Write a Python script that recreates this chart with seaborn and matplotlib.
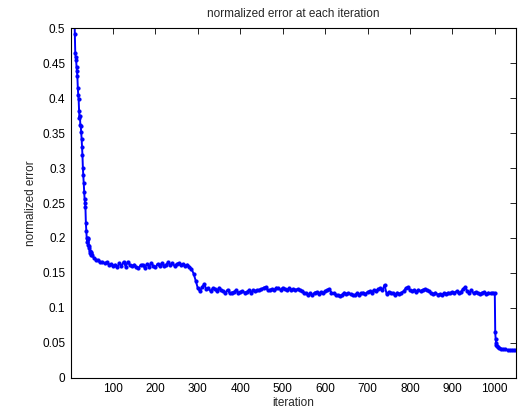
import numpy as np
import pandas as pd
import seaborn as sns
import matplotlib.pyplot as plt
from matplotlib.ticker import FormatStrFormatter

# iterations 1..50: fast initial drop (first points clipped above 0.5)
drop_iter = list(range(1, 51))
drop_err = [1.00, 0.95, 0.90, 0.85, 0.80, 0.75, 0.68, 0.60, 0.53, 0.492,
            0.465, 0.458, 0.455, 0.445, 0.438, 0.431, 0.415, 0.405, 0.398, 0.382,
            0.372, 0.375, 0.361, 0.360, 0.352, 0.342, 0.330, 0.318, 0.300, 0.290,
            0.278, 0.266, 0.256, 0.250, 0.244, 0.222, 0.210, 0.200, 0.194, 0.200,
            0.190, 0.198, 0.188, 0.185, 0.182, 0.178, 0.180, 0.176, 0.178, 0.175]

# iterations 55..995, every 5
mid_iter = list(range(55, 1000, 5))
mid_err = [0.172, 0.169, 0.168, 0.165, 0.166, 0.164, 0.165, 0.162, 0.163, 0.160,
           0.162, 0.158, 0.164, 0.160, 0.166, 0.159, 0.166, 0.161, 0.160, 0.162,
           0.158, 0.157, 0.161, 0.162, 0.157, 0.163, 0.159, 0.164, 0.160, 0.158,
           0.163, 0.160, 0.164, 0.160, 0.162, 0.165, 0.161, 0.164, 0.160, 0.163,
           0.164, 0.161, 0.163, 0.160, 0.162, 0.159, 0.156, 0.149, 0.139, 0.128,
           0.124, 0.130, 0.134, 0.127, 0.128, 0.124, 0.128, 0.127, 0.124, 0.129,
           0.125, 0.124, 0.122, 0.126, 0.121, 0.122, 0.123, 0.125, 0.122, 0.123,
           0.124, 0.122, 0.123, 0.125, 0.122, 0.125, 0.124, 0.125, 0.126, 0.127,
           0.129, 0.130, 0.125, 0.126, 0.127, 0.125, 0.129, 0.128, 0.126, 0.129,
           0.127, 0.126, 0.128, 0.126, 0.127, 0.126, 0.127, 0.125, 0.124, 0.122,
           0.121, 0.119, 0.121, 0.118, 0.122, 0.123, 0.120, 0.123, 0.121, 0.124,
           0.126, 0.127, 0.122, 0.121, 0.119, 0.118, 0.117, 0.119, 0.122, 0.120,
           0.121, 0.120, 0.119, 0.118, 0.121, 0.119, 0.121, 0.122, 0.120, 0.123,
           0.124, 0.122, 0.126, 0.124, 0.127, 0.128, 0.125, 0.133, 0.120, 0.123,
           0.122, 0.121, 0.119, 0.122, 0.120, 0.122, 0.124, 0.128, 0.130, 0.125,
           0.124, 0.126, 0.123, 0.126, 0.124, 0.126, 0.127, 0.125, 0.124, 0.121,
           0.120, 0.122, 0.119, 0.120, 0.118, 0.121, 0.120, 0.122, 0.121, 0.123,
           0.122, 0.124, 0.121, 0.123, 0.127, 0.130, 0.124, 0.122, 0.125, 0.121,
           0.123, 0.121, 0.120, 0.122, 0.123, 0.120, 0.122, 0.121, 0.122]

# last step around iteration 1000
tail_iter = [1000, 1001, 1002, 1003, 1004, 1005, 1007, 1010, 1015, 1020,
             1025, 1030, 1035, 1040, 1045, 1050]
tail_err = [0.121, 0.066, 0.056, 0.050, 0.047, 0.045, 0.044, 0.043, 0.042, 0.041,
            0.041, 0.040, 0.040, 0.040, 0.040, 0.040]

assert len(mid_iter) == len(mid_err)

df = pd.DataFrame({'iteration': drop_iter + mid_iter + tail_iter,
                   'error': drop_err + mid_err + tail_err})

sns.set_style('white')
plt.rcParams['font.family'] = ['Liberation Sans', 'DejaVu Sans']

fig = plt.figure(figsize=(5.26, 4.19), dpi=100)
ax = fig.add_axes([0.135, 0.098, 0.846, 0.835])
sns.lineplot(data=df, x='iteration', y='error', estimator=None, sort=False,
             color='#0000ff', linewidth=1.4, marker='.', markersize=4.5,
             markeredgecolor='#0000ff', ax=ax)

ax.set_xlim(1, 1050)
ax.set_ylim(0, 0.5)
ax.set_xticks(range(100, 1001, 100))
ax.set_yticks(np.arange(0, 0.501, 0.05))
ax.yaxis.set_major_formatter(FormatStrFormatter('%g'))
ax.tick_params(direction='in', top=True, right=True, length=4, width=0.6,
               labelsize=8.5, colors='black', pad=4)
for s in ax.spines.values():
    s.set_visible(True)
    s.set_color('black')
    s.set_linewidth(0.8)

ax.set_title('normalized error at each iteration', fontsize=8.5, pad=8)
ax.set_xlabel('iteration', fontsize=8.5, labelpad=1)
ax.set_ylabel('normalized error', fontsize=8.5, labelpad=4)

fig.savefig('out.png', dpi=100)
